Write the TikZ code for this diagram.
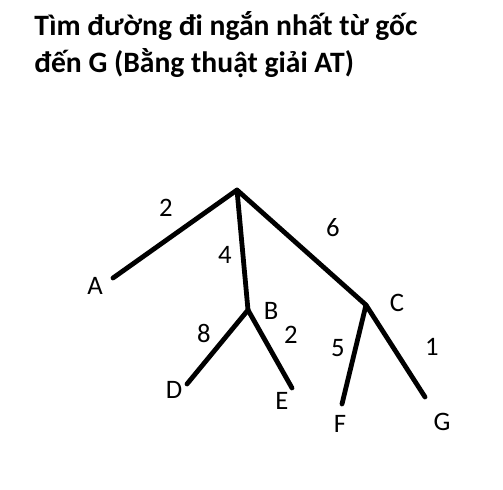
\documentclass[tikz,border=0pt]{standalone}
\usepackage{fontspec}
\setmainfont{Carlito}
\usepackage{tikz}
\usetikzlibrary{positioning}

\tikzset{
  edge/.style={draw=black, line width=3.6pt, line cap=round, line join=round},
  lbl/.style={inner sep=0pt, font=\fontsize{20}{22}\selectfont},
  ttl/.style={inner sep=0pt, anchor=base west, font=\fontsize{22.2}{26}\selectfont\bfseries}
}

\begin{document}
\begin{tikzpicture}[x=0.75pt, y=-0.75pt]
            \useasboundingbox (0,0) rectangle (503,489);       % picture frame
            \node [ttl] (title1) at (34,35) {Tìm đường đi ngắn nhất từ gốc};   % title line 1
            \node [ttl] (title2) at (34,72) {đến G (Bằng thuật giải AT)};       % title line 2
            \coordinate (root) at (237,190);                 % root of the tree
            \coordinate (A) at (113,278);
            \coordinate (B) at (248,310);
            \coordinate (C) at (366,305);
            \coordinate (D) at (187,384);
            \coordinate (E) at (292,388);
            \coordinate (F) at (342,404);
            \coordinate (G) at (425,397);
            \draw [edge] (A) -- (root) -- (B);               % left branches
            \draw [edge] (root) -- (C);                      % right branch
            \draw [edge] (D) -- (B) -- (E);                  % children of B
            \draw [edge] (F) -- (C) -- (G);                  % children of C
            \node [lbl] (lblA) at (95,286) {A};              % vertex labels
            \node [lbl] (lblB) at (271,311) {B};
            \node [lbl] (lblC) at (397,303) {C};
            \node [lbl] (lblD) at (174,390) {D};
            \node [lbl] (lblE) at (282,401) {E};
            \node [lbl] (lblF) at (340,424) {F};
            \node [lbl] (lblG) at (442,422) {G};
            \node [lbl] (wA) at (166,208) {2};               % edge weights
            \node [lbl] (wB) at (225,255) {4};
            \node [lbl] (wC) at (333,228) {6};
            \node [lbl] (wD) at (204,333) {8};
            \node [lbl] (wE) at (291,335) {2};
            \node [lbl] (wF) at (338,348) {5};
            \node [lbl] (wG) at (432,347) {1};
\end{tikzpicture}
\end{document}
